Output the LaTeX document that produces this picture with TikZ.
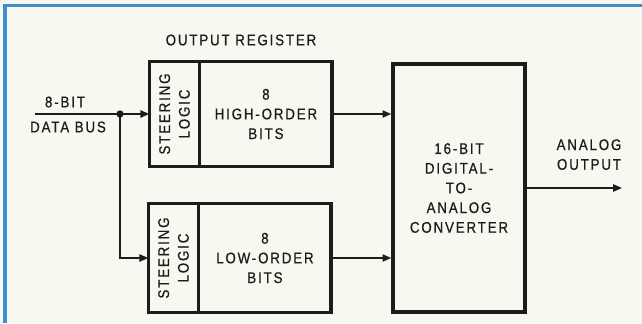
\documentclass[tikz,border=0pt]{standalone}
\usepackage{fontspec}
\usepackage{tikz}
\usetikzlibrary{positioning,arrows.meta,calc}
\newfontfamily\labelfont[LetterSpace=12,FakeStretch=0.86,FakeBold=0.6]{Liberation Sans}
\definecolor{paper}{HTML}{F8F7F0}
\definecolor{frameblue}{HTML}{3F8ED0}
\definecolor{ink}{HTML}{1C1C1C}
\tikzset{
  lbl/.style     ={font=\labelfont\fontsize{11}{14}\selectfont, text=ink, align=center, inner sep=0pt},
  steerbox/.style={draw=ink, line width=1pt, minimum width=1.225cm, inner sep=0pt},
  bitsbox/.style ={draw=ink, line width=1pt, minimum width=3.275cm, inner sep=0pt, lbl},
  regframe/.style={draw=ink, line width=2.4pt},
  dacbox/.style  ={draw=ink, line width=2.4pt, minimum width=3.3cm, minimum height=6.2cm, lbl},
  wire/.style    ={draw=ink, line width=1.1pt},
  >={Triangle[length=2.2mm,width=1.8mm]},
}
\begin{document}
\begin{tikzpicture}[x=0.025cm,y=-0.025cm]
\fill[paper] (0,0) rectangle (642,323);
\useasboundingbox (0,0) rectangle (642,323);
\draw[frameblue,line width=2.2pt] (5,323) -- (5,5.5) -- (642,5.5);

% output register, upper half
\node[lbl] (regtitle) at (241,40) {OUTPUT REGISTER};
\node[steerbox, minimum height=2.6cm] (histeer) at (174.5,114) {};
\node[bitsbox, minimum height=2.6cm, right=0pt of histeer] (hibits) {8\\HIGH-ORDER\\BITS};
\node[lbl, rotate=90] (histeertxt) at (histeer) {STEERING\\LOGIC};
\draw[regframe] (histeer.north west) rectangle (hibits.south east);

% lower half
\node[steerbox, minimum height=2.7cm] (losteer) at (173.5,258) {};
\node[bitsbox, minimum height=2.7cm, right=0pt of losteer] (lobits) {8\\LOW-ORDER\\BITS};
\node[lbl, rotate=90] (losteertxt) at (losteer) {STEERING\\LOGIC};
\draw[regframe] (losteer.north west) rectangle (lobits.south east);

% converter
\node[dacbox] (dac) at (459,188) {16-BIT\\DIGITAL-\\TO-\\ANALOG\\CONVERTER};

% data bus
\node[lbl] (busup) at (65,102) {8-BIT};
\node[lbl] (busdown) at (68,127) {DATA BUS};
\coordinate (busin) at (35,114);
\coordinate (junc) at (120,114);
\draw[wire,->] (busin) -- (histeer.west);
\draw[wire,->] (junc) |- (losteer.west);
\fill[ink] (junc) circle (2.6pt);

\draw[wire,->] (hibits.east) -- (hibits.east -| dac.west);
\draw[wire,->] (lobits.east) -- (lobits.east -| dac.west);

% analog output
\node[lbl, text depth=0pt] (aoutlbl) at (589,154.5) {ANALOG\\OUTPUT};
\coordinate (aout) at (622,188);
\draw[wire,->] (dac.east) -- (aout);
\end{tikzpicture}
\end{document}
